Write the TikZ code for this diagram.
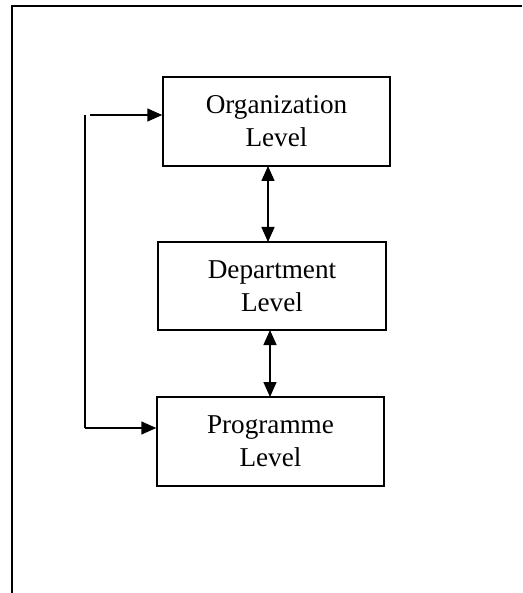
\documentclass[tikz,border=0pt]{standalone}
\usepackage{fontspec}
\setmainfont{Liberation Serif}
\usetikzlibrary{arrows.meta}
\begin{document}
\begin{tikzpicture}[x=1pt,y=-1pt,
  levelbox/.style={draw,line width=1.5pt,align=center,inner sep=0pt,
    font=\fontsize{27.2}{32.8}\selectfont},
  conn/.style={line width=1.5pt},
  tip/.style={-{Triangle[length=15pt,width=13pt]}},
  dtip/.style={{Triangle[length=15pt,width=13pt]}-{Triangle[length=15pt,width=13pt]}}]
\useasboundingbox (0,0) rectangle (522,593);
% page border (top and left)
\draw[line width=2pt] (12,593) -- (12,6) -- (522,6);
\node[levelbox,minimum width=227pt,minimum height=89pt] (org) at (276.5,121.5) {Organization\\Level};
\node[levelbox,minimum width=228pt,minimum height=88pt] (dep) at (272,286) {Department\\Level};
\node[levelbox,minimum width=227pt,minimum height=89pt] (prog) at (270.5,441.5) {Programme\\Level};
\draw[conn,dtip] (268,242) -- (268,166);
\draw[conn,dtip] (270,397) -- (270,330);
\coordinate (vtop) at (85,115);
\coordinate (vbot) at (85,428);
\coordinate (htop) at (90,115);
\draw[conn] (vtop) -- (vbot);
\draw[conn,tip] (vbot) -- (vbot -| prog.west);
\draw[conn,tip] (htop) -- (htop -| org.west);
\end{tikzpicture}
\end{document}
